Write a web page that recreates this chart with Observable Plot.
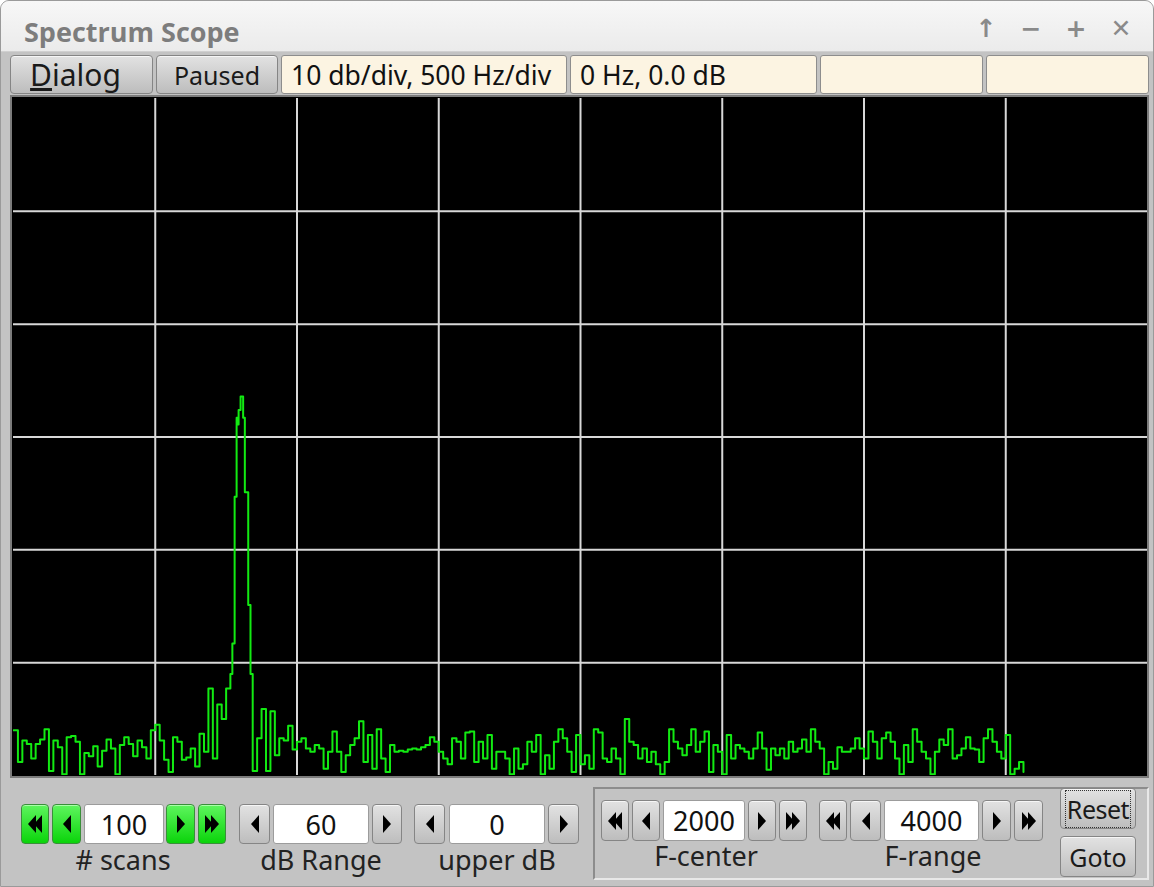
<!DOCTYPE html>
<html><head><meta charset="utf-8">
<script src="https://cdn.jsdelivr.net/npm/d3@7"></script>
<script src="https://cdn.jsdelivr.net/npm/@observablehq/plot@0.6"></script>
<style>
html,body{margin:0;padding:0;background:#fff;}
body{width:1154px;height:887px;position:relative;overflow:hidden;font-family:"Noto Sans","DejaVu Sans",sans-serif;}
#win{position:absolute;left:0;top:0;width:1152px;height:885px;border:1px solid #9a9a9a;border-radius:9px 9px 0 0;background:#c3c3c3;overflow:hidden;}
#titlebar{position:absolute;left:0;top:0;width:1152px;height:50px;background:linear-gradient(#f7f7f7,#ebebeb);border-bottom:1px solid #d0d0d0;}
.abs{position:absolute;box-sizing:border-box;}
.title{font-size:27px;font-weight:bold;color:#7d7d7d;font-family:"Open Sans","Noto Sans",sans-serif;white-space:nowrap;}
.wicon{font-size:25px;font-weight:bold;color:#8a8a8a;text-align:center;font-family:"DejaVu Sans",sans-serif;}
.gbtn{background:linear-gradient(#e2e2e2,#bdbdbd);border:1px solid #858585;border-radius:4px;box-shadow:inset 0 1px 0 #f6f6f6;display:flex;align-items:center;justify-content:center;color:#1a1a1a;}
.green{background:linear-gradient(#5ef55e,#0bd40b);border:1px solid #3a8f3a;box-shadow:inset 0 1px 0 #a8ffa8;}
.cream{background:#fcf4e2;border:1px solid #8d8d8d;border-radius:3px;display:flex;align-items:center;color:#111;font-size:26.5px;padding-left:9px;white-space:nowrap;}
.inp{background:#fff;border:1px solid #9c9c9c;border-radius:3px;display:flex;align-items:center;justify-content:center;font-size:27px;color:#111;}
.lbl{font-size:27px;color:#222;text-align:center;white-space:nowrap;line-height:30px;}
.tri{width:0;height:0;border-top:9px solid transparent;border-bottom:9px solid transparent;}
.tl{border-right:8px solid #000;}
.tr{border-left:8px solid #000;}
</style></head>
<body>
<div id="win">
  <div id="titlebar"></div>
</div>
<script>
// ---- data -------------------------------------------------------------
const binHz = 15.625;          // spectrum bin width
// noise floor levels (dB) per bin starting at 0 Hz; null where the carrier is drawn from peak arrays
const noiseDb = [
  -56.0,-58.8,-56.9,-57.2,-58.5,-57.2,-56.8,-55.9,-59.6,-56.9,
  -57.5,-59.9,-56.6,-56.5,-57.0,-59.9,-58.0,-58.3,-57.4,-59.2,
  -57.8,-56.8,-57.6,-59.9,-57.3,-56.6,-57.2,-58.3,-56.9,-57.5,
  -58.5,-56.0,-55.5,-56.9,-58.6,-59.7,-56.6,-57.0,-58.6,-58.4,
  -57.6,-59.2,-56.3,-57.9,-52.3,-58.5,-53.7,-55.0,-52.3,null,
  null,null,null,null,-59.6,-56.7,-54.1,-59.6,-54.3,-58.2,
  -56.7,-56.9,-55.6,-57.7,-57.0,-56.7,-57.6,-57.9,-57.3,-57.6,
  -59.4,-57.9,-56.1,-57.9,-59.7,-58.2,-57.3,-56.7,-55.2,-58.8,
  -56.4,-59.4,-55.9,-58.5,-59.7,-57.3,-57.9,-57.8,-57.9,-57.7,
  -57.6,-57.7,-57.5,-57.3,-56.6,-57.0,-57.9,-58.5,-59.0,-56.7,
  -57.0,-58.5,-56.2,-56.1,-58.8,-57.0,-58.5,-56.4,-59.4,-57.9,
  -57.9,-58.5,-59.9,-57.6,-59.4,-59.0,-57.0,-57.9,-56.4,-59.9,
  -58.2,-59.4,-57.0,-55.9,-56.7,-57.9,-59.7,-56.4,-59.0,-58.2,
  -59.4,-55.9,-56.2,-58.5,-58.8,-57.6,-58.5,-59.9,-55.0,-57.0,
  -57.3,-58.5,-57.6,-58.8,-57.9,-59.0,-59.9,-58.8,-55.9,-57.0,
  -57.6,-58.2,-57.3,-55.9,-57.9,-57.0,-56.1,-59.7,-57.3,-57.9,
  -59.9,-56.4,-58.5,-57.3,-57.6,-57.9,-58.5,-57.6,-56.2,-57.6,
  -59.5,-57.6,-58.2,-57.6,-58.5,-57.0,-57.9,-57.6,-56.8,-57.9,
  -55.9,-57.0,-57.6,-59.9,-58.8,-59.4,-57.5,-57.9,-57.9,-57.6,
  -56.7,-57.6,-58.5,-56.1,-57.0,-58.5,-56.7,-56.2,-57.0,-58.5,
  -59.9,-57.3,-58.8,-55.9,-57.0,-57.9,-58.5,-59.9,-57.9,-56.8,
  -57.3,-55.9,-58.5,-58.2,-57.6,-56.6,-57.6,-57.7,-58.8,-56.7,
  -55.9,-57.0,-57.9,-58.5,-56.4,-59.9,-59.4,-58.8,-59.7
];
// carrier peak, finer resolution
const peakHz = [765, 772, 780, 787, 791, 794, 801, 810, 816, 828, 836];
const peakDb = [-51.0, -48.3, -35.3, -28.3, -28.9, -27.6, -26.4, -28.3, -34.9, -44.9, -51.0];
// graticule
const gridHz = [500, 1000, 1500, 2000, 2500, 3000, 3500];
const gridDb = [-50, -40, -30, -20, -10];
const freqDomain = [0, 4000];
const dbDomain = [-60, 0];
// UI texts
const titleText = "Spectrum Scope";
const statusTexts = ["10 db/div, 500 Hz/div", "0 Hz, 0.0 dB", "", ""];
const counterValues = ["100", "60", "0", "2000", "4000"];
const counterLabels = ["# scans", "dB Range", "upper dB", "F-center", "F-range"];

// ---- build trace -------------------------------------------------------
const trace = [];
noiseDb.forEach((v, i) => { if (v !== null) trace.push({hz: i * binHz, db: v}); });
peakHz.forEach((h, i) => trace.push({hz: h, db: peakDb[i]}));
trace.sort((a, b) => a.hz - b.hz);

// ---- UI helpers --------------------------------------------------------
const win = document.getElementById("win");
function el(cls, x, y, w, h, html, extra) {
  const d = document.createElement("div");
  d.className = "abs " + cls;
  d.style.left = x + "px"; d.style.top = y + "px";
  if (w != null) d.style.width = w + "px";
  if (h != null) d.style.height = h + "px";
  if (html != null) d.innerHTML = html;
  if (extra) Object.assign(d.style, extra);
  win.appendChild(d);
  return d;
}
function arrows(dir, n) {
  let s = "";
  for (let i = 0; i < n; i++) s += `<div class="tri ${dir === "l" ? "tl" : "tr"}" style="margin:0 -1px"></div>`;
  return s;
}

// title bar
el("title", 23, 12, null, null, titleText);
["↑", "−", "+", "✕"].forEach((c, i) => el("wicon", 969 + i * 45, 13, 32, 32, c));

// toolbar
el("gbtn", 9, 54, 143, 39, '<span style="font-size:30px;position:relative;left:-6px"><u>D</u>ialog</span>');
el("gbtn", 155, 54, 122, 39, '<span style="font-size:25px">Paused</span>');
const creamX = [280, 569, 819, 985], creamW = [286, 247, 163, 163];
statusTexts.forEach((t, i) => el("cream", creamX[i], 54, creamW[i], 39, t));

// plot frame
el("", 9, 94, 1139, 683, null, {border: "2px solid #7c7c7c", background: "#000"});
const plotHolder = el("", 12, 97, 1134, 677, null);

// bottom counters
const Y1 = 803, H1 = 40;
el("gbtn green", 20, Y1, 28, H1, arrows("l", 2));
el("gbtn green", 51, Y1, 29, H1, arrows("l", 1));
el("inp", 83, Y1, 80, H1, counterValues[0]);
el("gbtn green", 165, Y1, 29, H1, arrows("r", 1));
el("gbtn green", 197, Y1, 28, H1, arrows("r", 2));
el("lbl", 52, 844, 140, 30, counterLabels[0]);

el("gbtn", 238, Y1, 31, H1, arrows("l", 1));
el("inp", 272, Y1, 96, H1, counterValues[1]);
el("gbtn", 371, Y1, 30, H1, arrows("r", 1));
el("lbl", 245, 844, 150, 30, counterLabels[1]);

el("gbtn", 413, Y1, 31, H1, arrows("l", 1));
el("inp", 448, Y1, 96, H1, counterValues[2]);
el("gbtn", 547, Y1, 31, H1, arrows("r", 1));
el("lbl", 421, 844, 150, 30, counterLabels[2]);

el("", 592, 786, 556, 93, null, {border: "2px solid #8c8c8c", borderRightColor: "#e8e8e8", borderBottomColor: "#e8e8e8"});
const Y2 = 799, H2 = 41;
el("gbtn", 600, Y2, 28, H2, arrows("l", 2));
el("gbtn", 631, Y2, 28, H2, arrows("l", 1));
el("inp", 662, Y2, 82, H2, counterValues[3]);
el("gbtn", 747, Y2, 28, H2, arrows("r", 1));
el("gbtn", 778, Y2, 28, H2, arrows("r", 2));
el("lbl", 630, 840, 150, 30, counterLabels[3]);

el("gbtn", 818, Y2, 28, H2, arrows("l", 2));
el("gbtn", 849, Y2, 31, H2, arrows("l", 1));
el("inp", 883, Y2, 95, H2, counterValues[4]);
el("gbtn", 981, Y2, 29, H2, arrows("r", 1));
el("gbtn", 1013, Y2, 29, H2, arrows("r", 2));
el("lbl", 857, 840, 150, 30, counterLabels[4]);

el("gbtn", 1059, 787, 76, 41, '<span style="font-size:25px;outline:1px dotted #333;outline-offset:1px;letter-spacing:-0.5px">Reset</span>');
el("gbtn", 1059, 835, 76, 41, '<span style="font-size:25px">Goto</span>');

// ---- chart -------------------------------------------------------------
const chart = Plot.plot({
  width: 1134, height: 677, margin: 0,
  x: {domain: freqDomain, axis: null},
  y: {domain: dbDomain, axis: null},
  style: {background: "#000", overflow: "hidden"},
  marks: [
    Plot.ruleX(gridHz, {stroke: "#d8d8d8", strokeWidth: 2}),
    Plot.ruleY(gridDb, {stroke: "#d8d8d8", strokeWidth: 2}),
    Plot.line(trace, {x: "hz", y: "db", curve: "step-after", stroke: "#12ea12", strokeWidth: 2})
  ]
});
plotHolder.appendChild(chart);
</script>
</body></html>
